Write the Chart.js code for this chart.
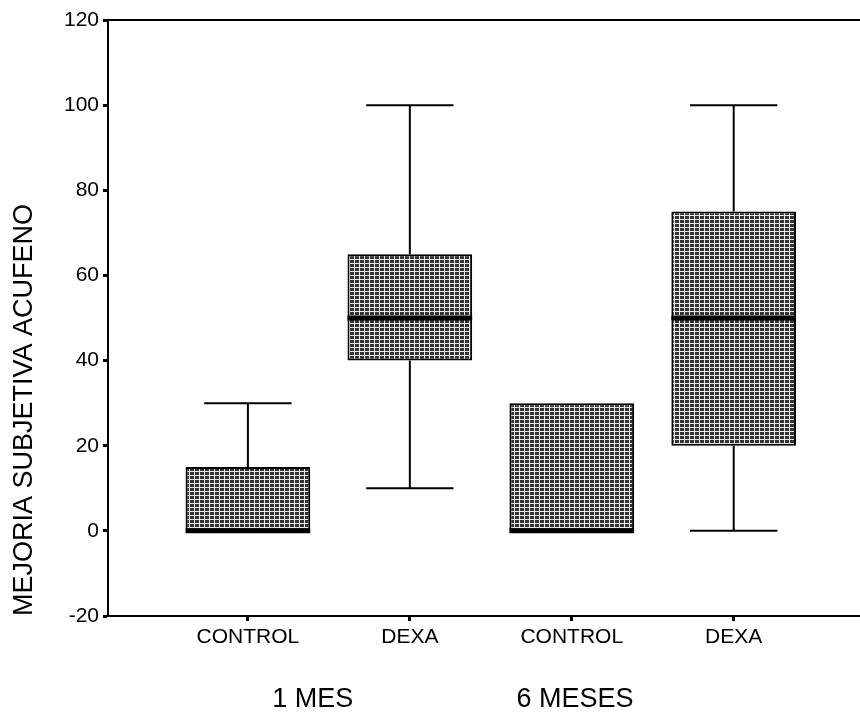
<!DOCTYPE html>
<html>
<head>
<meta charset="utf-8">
<style>
  html, body { margin: 0; padding: 0; background: #fff; }
  canvas { display: block; }
</style>
<script src="https://cdn.jsdelivr.net/npm/chart.js@4.4.1/dist/chart.umd.min.js"></script>
</head>
<body>
<canvas id="boxChart" width="860" height="712"></canvas>
<script>
// Categorías y posiciones sobre el eje X
const categories = ['CONTROL', 'DEXA', 'CONTROL', 'DEXA'];
const positions = [1, 2, 3, 4];

// Valores de cada caja
const whiskerLow = [0, 10, 0, 0];
const q1 = [0, 40, 0, 20];
const median = [0, 50, 0, 50];
const q3 = [15, 65, 30, 75];
const whiskerHigh = [30, 100, 30, 100];

// Etiquetas de grupo bajo el eje
const groupLabels = ['1 MES', '6 MESES'];
const groupPos = [1.4, 3.02];

// Eje Y
const yMin = -20, yMax = 120, yStep = 20;

const FONT = '"Liberation Sans", Arial, Helvetica, sans-serif';

// Trama gris cuadriculada de las cajas
function makePattern() {
    const c = document.createElement('canvas');
    c.width = 5; c.height = 4;
    const g = c.getContext('2d');
    g.fillStyle = '#333333';
    g.fillRect(0, 0, 5, 4);
    g.fillStyle = '#e8e8e8';
    g.fillRect(0, 3, 5, 1);
    g.fillRect(4, 0, 1, 4);
    return g.createPattern(c, 'repeat');
}

// Bigotes, medianas, borde superior y etiquetas de grupo
const boxPlotExtras = {
    id: 'boxPlotExtras',
    afterDatasetsDraw(chart) {
        const { ctx, chartArea, scales: { x, y } } = chart;
        const meta = chart.getDatasetMeta(0);
        ctx.save();
        ctx.strokeStyle = '#000';
        ctx.lineCap = 'butt';
        meta.data.forEach((bar, i) => {
            const cx = bar.x;
            const half = bar.width / 2;
            const capHalf = half * 0.7;
            const pLow = y.getPixelForValue(whiskerLow[i]);
            const pHigh = y.getPixelForValue(whiskerHigh[i]);
            const pQ1 = y.getPixelForValue(q1[i]);
            const pQ3 = y.getPixelForValue(q3[i]);
            const pMed = y.getPixelForValue(median[i]);

            ctx.lineWidth = 2;
            ctx.beginPath();
            if (whiskerHigh[i] > q3[i]) {
                ctx.moveTo(cx, pQ3); ctx.lineTo(cx, pHigh);
                ctx.moveTo(cx - capHalf, pHigh); ctx.lineTo(cx + capHalf, pHigh);
            }
            if (whiskerLow[i] < q1[i]) {
                ctx.moveTo(cx, pQ1); ctx.lineTo(cx, pLow);
                ctx.moveTo(cx - capHalf, pLow); ctx.lineTo(cx + capHalf, pLow);
            }
            ctx.stroke();

            ctx.lineWidth = 5;
            ctx.beginPath();
            ctx.moveTo(cx - half, pMed); ctx.lineTo(cx + half, pMed);
            ctx.stroke();
        });

        ctx.lineWidth = 2;
        ctx.beginPath();
        ctx.moveTo(chartArea.left, chartArea.top);
        ctx.lineTo(chartArea.right, chartArea.top);
        ctx.stroke();

        ctx.fillStyle = '#000';
        ctx.font = '27px ' + FONT;
        ctx.textAlign = 'center';
        ctx.textBaseline = 'middle';
        groupLabels.forEach((lbl, i) => {
            ctx.fillText(lbl, x.getPixelForValue(groupPos[i]), 700);
        });
        ctx.restore();
    }
};

const ctx = document.getElementById('boxChart').getContext('2d');
const chart = new Chart(ctx, {
    type: 'bar',
    data: {
        datasets: [{
            data: positions.map((p, i) => ({ x: p, y: [q1[i], q3[i]] })),
            backgroundColor: makePattern(),
            borderColor: '#000',
            borderWidth: 2,
            borderSkipped: false,
            categoryPercentage: 1,
            barPercentage: 0.77
        }]
    },
    options: {
        responsive: false,
        animation: false,
        layout: { padding: { top: 20, right: 0, bottom: 0, left: 0 } },
        plugins: {
            legend: { display: false },
            tooltip: { enabled: false }
        },
        scales: {
            x: {
                type: 'linear',
                offset: false,
                min: 0.136,
                max: 4.78,
                afterBuildTicks: axis => {
                    axis.ticks = positions.map(v => ({ value: v }));
                },
                afterFit: axis => { axis.height = 96; },
                border: { display: true, color: '#000', width: 2 },
                grid: {
                    offset: false,
                    drawOnChartArea: false,
                    drawTicks: true,
                    tickLength: 5,
                    tickWidth: 3,
                    tickColor: '#000'
                },
                ticks: {
                    autoSkip: false,
                    maxRotation: 0,
                    padding: 4,
                    color: '#000',
                    font: { family: FONT, size: 21 },
                    callback: value => categories[positions.indexOf(value)] || ''
                }
            },
            y: {
                min: yMin,
                max: yMax,
                afterFit: axis => { axis.width = 108; },
                border: { display: true, color: '#000', width: 2 },
                grid: {
                    drawOnChartArea: false,
                    drawTicks: true,
                    tickLength: 5,
                    tickWidth: 3,
                    tickColor: '#000'
                },
                ticks: {
                    stepSize: yStep,
                    padding: 4,
                    color: '#000',
                    font: { family: FONT, size: 21 }
                },
                title: {
                    display: true,
                    text: 'MEJORIA SUBJETIVA ACUFENO',
                    align: 'start',
                    color: '#000',
                    font: { family: FONT, size: 27 },
                    padding: { top: 8, bottom: 0 }
                }
            }
        }
    },
    plugins: [boxPlotExtras]
});
</script>
</body>
</html>
